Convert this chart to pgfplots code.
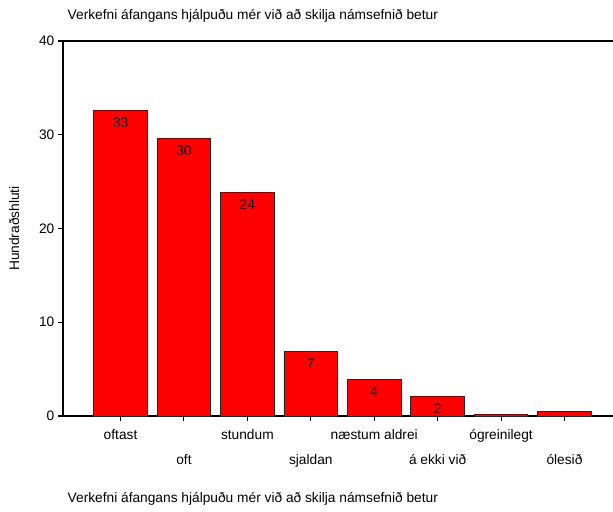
\documentclass[border=0pt]{standalone}
\usepackage{fontspec}
\setmainfont{Liberation Sans}
\usepackage{pgfplots}
\pgfplotsset{compat=1.18}

\begin{document}
\begin{tikzpicture}[x=0.75pt,y=0.75pt]
\path[use as bounding box] (-63,-95) rectangle (550,416);
\begin{axis}[
    at={(0,0)}, anchor=south west,
    scale only axis,
    width=412.5pt, height=281.25pt,
    ybar, bar width=0.845,
    xmin=-0.907, xmax=7.765,
    ymin=0, ymax=40,
    ytick={0,10,20,30,40},
    xtick={0,...,7},
    xticklabels={
        {\strut oftast},
        {\strut\\\strut oft},
        {\strut stundum},
        {\strut\\\strut sjaldan},
        {\strut næstum aldrei},
        {\strut\\\strut á ekki við},
        {\strut ógreinilegt},
        {\strut\\\strut ólesið}},
    xticklabel style={align=center, font=\fontsize{10.3}{18.75}\selectfont, anchor=north, yshift=3pt},
    yticklabel style={font=\fontsize{10.3}{12}\selectfont, xshift=1pt},
    /pgf/number format/assume math mode=true,
    axis x line*=bottom,
    axis y line*=left,
    tick align=outside,
    major tick length=4pt,
    tick style={black, line width=0.8pt},
    axis line style={black, line width=1pt},
    ylabel={Hundraðshluti},
    ylabel style={font=\fontsize{10.3}{12}\selectfont, yshift=8pt},
    xlabel={Verkefni áfangans hjálpuðu mér við að skilja námsefnið betur},
    xlabel style={font=\fontsize{10.3}{12}\selectfont, at={(0,0)}, anchor=west, yshift=-62pt},
    title={Verkefni áfangans hjálpuðu mér við að skilja námsefnið betur},
    title style={font=\fontsize{10.3}{12}\selectfont, at={(0,1)}, anchor=west, yshift=12.5pt},
    nodes near coords,
    point meta=explicit symbolic,
    every node near coord/.append style={font=\fontsize{10.3}{12}\selectfont, anchor=center, yshift=-9pt, black},
    clip=false,
]
\draw[black, line width=1pt] (rel axis cs:0,1) -- (rel axis cs:1,1);
\addplot[fill=red, draw=black!85, line width=0.7pt] table[meta=lab] {
x y lab
0 32.6 33
1 29.6 30
2 23.8 24
3 6.9 7
4 3.9 4
5 2.1 2
6 0.2 {}
7 0.5 {}
};
\end{axis}
\end{tikzpicture}
\end{document}
